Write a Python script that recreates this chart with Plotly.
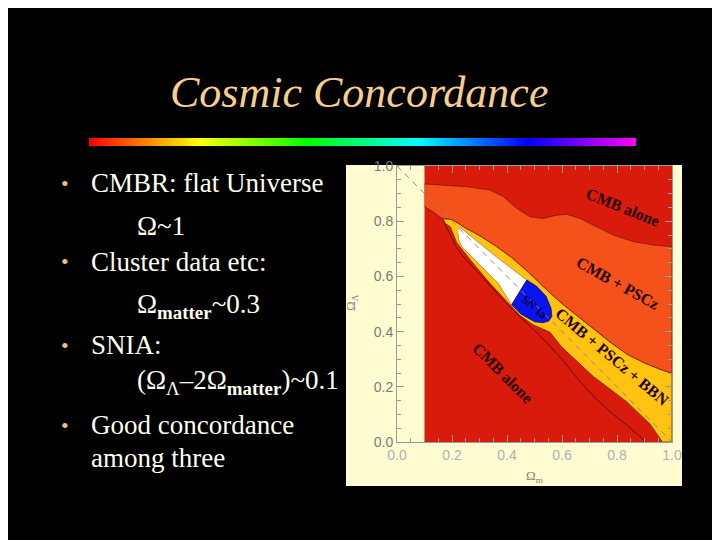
import plotly.graph_objects as go

W, H = 720, 540
PAGE_OFFSET = 8  # the page places the figure 8px in from the top-left corner

# ---- chart data (Omega_m, Omega_Lambda) ----
red_x = [0.10, 1.00, 1.00, 0.10]
red_y = [0.00, 0.00, 1.00, 1.00]

orange_top_x = [0.100, 0.156, 0.253, 0.338, 0.387, 0.435, 0.484, 0.532, 0.581, 0.617,
                0.665, 0.726, 0.787, 0.859, 0.932, 1.000]
orange_top_y = [0.935, 0.931, 0.925, 0.913, 0.889, 0.847, 0.816, 0.810, 0.822, 0.825,
                0.810, 0.780, 0.750, 0.726, 0.714, 0.708]
orange_low_x = [0.168, 0.138, 0.100]
orange_low_y = [0.807, 0.829, 0.853]

yel_top_x = [0.168, 0.199, 0.223, 0.247, 0.296, 0.356, 0.417, 0.478, 0.538, 0.599,
             0.659, 0.720, 0.781, 0.841, 0.902, 0.962, 1.000]
yel_top_y = [0.809, 0.806, 0.792, 0.776, 0.750, 0.712, 0.668, 0.615, 0.557, 0.502,
             0.454, 0.406, 0.357, 0.315, 0.285, 0.261, 0.249]
yel_low_x = [0.168, 0.175, 0.193, 0.205, 0.217, 0.235, 0.277, 0.338, 0.399, 0.447,
             0.496, 0.556, 0.600, 0.714, 0.835, 0.920, 0.965]
yel_low_y = [0.807, 0.792, 0.780, 0.752, 0.722, 0.698, 0.647, 0.575, 0.508, 0.458,
             0.424, 0.398, 0.343, 0.237, 0.146, 0.065, 0.000]

white_x = [0.223, 0.229, 0.300, 0.375, 0.472, 0.417, 0.368, 0.332, 0.296, 0.259, 0.235, 0.225, 0.222]
white_y = [0.772, 0.778, 0.720, 0.660, 0.587, 0.497, 0.575, 0.611, 0.647, 0.684, 0.708, 0.732, 0.755]

blue_x = [0.472, 0.508, 0.542, 0.560, 0.563, 0.552, 0.530, 0.500, 0.450, 0.417, 0.472]
blue_y = [0.587, 0.564, 0.528, 0.485, 0.455, 0.438, 0.432, 0.436, 0.464, 0.497, 0.587]

dark_x = [0.168, 0.180, 0.197, 0.212, 0.232, 0.270, 0.330, 0.400, 0.450, 0.520, 0.600,
          0.660, 0.720, 0.780, 0.840, 0.905]
dark_y = [0.805, 0.780, 0.748, 0.712, 0.682, 0.640, 0.575, 0.500, 0.452, 0.385, 0.300,
          0.225, 0.160, 0.105, 0.058, 0.000]

flat_x = [0.0, 1.0]
flat_y = [1.0, 0.0]

tick_vals = [0.0, 0.2, 0.4, 0.6, 0.8, 1.0]
tick_text = ['0.0', '0.2', '0.4', '0.6', '0.8', '1.0']

region_labels = ['CMB alone', 'CMB + PSCz', 'CMB + PSCz + BBN', 'CMB alone', 'SN Ia']
label_x = [0.823, 0.805, 0.781, 0.387, 0.500]
label_y = [0.850, 0.575, 0.309, 0.249, 0.490]
label_angle = [22, 29, 40, 45, 40]

rainbow = ['#ff0000', '#ffff00', '#00ff00', '#00ffff', '#0000ff', '#ff00ff']

bullets = [
    ('CMBR: flat Universe', True),
    ('Ω~1', False),
    ('Cluster data etc:', True),
    ('Ω<sub><b>matter</b></sub>~0.3', False),
    ('SNIA:', True),
    ('(Ω<sub>Λ</sub>–2Ω<sub><b>matter</b></sub>)~0.1', False),
    ('Good concordance', True),
    ('among three', None),
]
bullet_y = [183, 226, 262, 306, 345, 382, 425, 458]

RED, ORANGE, YELLOW, BLUE = '#d81b0b', '#f5511b', '#ffc310', '#0a14f0'
EDGE = '#7a1a0a'


def px(x):
    return (x - PAGE_OFFSET) / W


def py(y):
    return 1 - (y - PAGE_OFFSET) / H


fig = go.Figure()


def region(xs, ys, color, edge=EDGE, width=0.8):
    fig.add_trace(go.Scatter(x=xs, y=ys, fill='toself', fillcolor=color, mode='lines',
                             line=dict(color=edge, width=width), hoverinfo='skip',
                             showlegend=False))


region(red_x, red_y, RED, edge=RED, width=0)
region(orange_top_x + yel_top_x[::-1] + orange_low_x, orange_top_y + yel_top_y[::-1] + orange_low_y, ORANGE)
region(yel_top_x + [1.0] + yel_low_x[::-1], yel_top_y + [0.0] + yel_low_y[::-1], YELLOW)
region(white_x, white_y, '#ffffff', edge='#8a6a10', width=0.6)
region(blue_x, blue_y, BLUE, edge='#101050', width=0.8)

fig.add_trace(go.Scatter(x=dark_x, y=dark_y, mode='lines', line=dict(color='#6a0a05', width=1),
                         hoverinfo='skip', showlegend=False))
fig.add_trace(go.Scatter(x=flat_x, y=flat_y, mode='lines',
                         line=dict(color='#8c8c8c', width=1, dash='6px,5px'),
                         hoverinfo='skip', showlegend=False))

for txt, lx, ly, ang in zip(region_labels, label_x, label_y, label_angle):
    small = txt == 'SN Ia'
    fig.add_annotation(x=lx, y=ly, xref='x', yref='y', text=f'<b>{txt}</b>', showarrow=False,
                       textangle=ang,
                       font=dict(family='Liberation Serif', size=12 if small else 16,
                                 color='#000040' if small else '#1e0000'))

# rainbow bar under the title
fig.add_trace(go.Heatmap(z=[list(range(len(rainbow)))], x=list(range(len(rainbow))), y=[0],
                         colorscale=[[i / (len(rainbow) - 1), c] for i, c in enumerate(rainbow)],
                         zsmooth='best', showscale=False, hoverinfo='skip',
                         xaxis='x2', yaxis='y2'))

axis_common = dict(range=[0, 1], tickvals=tick_vals, ticktext=tick_text, ticks='inside',
                   ticklen=7, tickcolor='#9a9a9a', showline=True, linecolor='#9a9a9a',
                   linewidth=1, mirror='ticks', showgrid=False, zeroline=False,
                   automargin=False,
                   minor=dict(ticks='inside', ticklen=4, dtick=0.05, tick0=0, tickcolor='#9a9a9a'))

fig.update_layout(
    width=W, height=H,
    margin=dict(l=0, r=0, t=0, b=0, pad=0, autoexpand=False),
    paper_bgcolor='#000000', plot_bgcolor='rgba(0,0,0,0)',
    xaxis=dict(domain=[px(397), px(672)], anchor='y',
               tickfont=dict(family='Liberation Sans', size=14, color='#b0b0b0'), **axis_common),
    yaxis=dict(domain=[py(442), py(166)], anchor='x',
               tickfont=dict(family='Liberation Sans', size=14, color='#7a7a7a'), **axis_common),
    xaxis2=dict(domain=[px(89), px(636)], range=[0, len(rainbow) - 1], visible=False,
                anchor='y2', automargin=False),
    yaxis2=dict(domain=[py(146), py(138)], range=[-0.5, 0.5], visible=False,
                anchor='x2', automargin=False),
    shapes=[dict(type='rect', xref='paper', yref='paper', x0=px(346), x1=px(682),
                 y0=py(486), y1=py(165), fillcolor='#fffcd2', line=dict(width=0), layer='below')],
)


def paper_text(x, y, text, size, color, family='Liberation Serif', xanchor='center', angle=0):
    fig.add_annotation(x=px(x), y=py(y), xref='paper', yref='paper', text=text,
                       showarrow=False, xanchor=xanchor, yanchor='middle', textangle=angle,
                       font=dict(family=family, size=size, color=color))


# axis titles
paper_text(534, 476, 'Ω<sub>m</sub>', 13, '#808080')
paper_text(351, 303, 'Ω<sub>Λ</sub>', 13, '#808080', angle=-90)

# slide title
paper_text(359, 92, '<i>Cosmic Concordance</i>', 44, '#f6cf8e')

# bullet list
for (txt, main), yy in zip(bullets, bullet_y):
    if main:
        paper_text(65, yy, '•', 22, '#f0c070')
    paper_text(89 if main is not False else 135, yy, txt, 27, '#fffff0', xanchor='left')

fig.write_html('out.html')
